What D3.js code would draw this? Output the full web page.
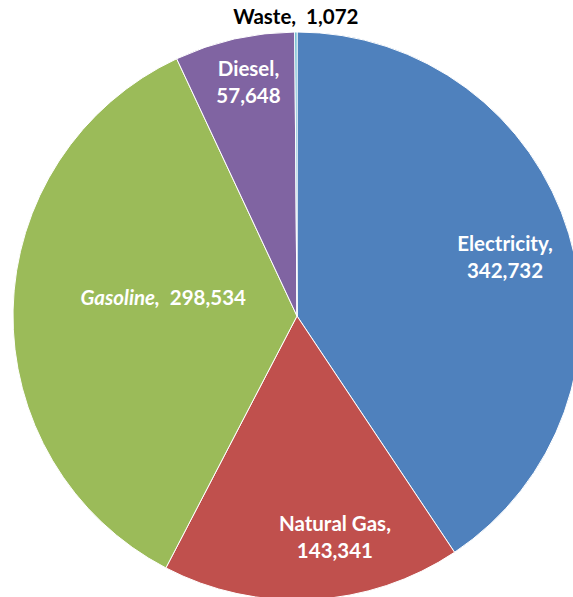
<!DOCTYPE html>
<html>
<head>
<meta charset="utf-8">
<script src="https://cdn.jsdelivr.net/npm/d3@7/dist/d3.min.js"></script>
<style>
  html, body { margin: 0; padding: 0; background: #fff; }
  svg { display: block; }
  text { font-family: Lato, "Open Sans", sans-serif; font-weight: bold; }
</style>
</head>
<body>
<svg id="chart" width="573" height="597"></svg>
<script>
// Energy use by source
const categories = ["Electricity", "Natural Gas", "Gasoline", "Diesel", "Waste"];
const values = [342732, 143341, 298534, 57648, 1072];
const colors = ["#4F81BD", "#C0504D", "#9BBB59", "#8064A2", "#4BACC6"];

// label layout: radius from centre, angular nudge (deg), two-line or one-line, text colour
const labelLayout = [
  { r: 216, da: 1.2, twoLine: true, fill: "#fff" },
  { r: 225, da: -6.6, twoLine: true, fill: "#fff" },
  { r: 135, da: 6.5, twoLine: false, fill: "#fff", italicName: true },
  { r: 238, da: 1.0, twoLine: true, fill: "#fff" },
  { r: 299, da: 0, twoLine: false, fill: "#000" }
];

const cx = 297, cy = 316, R = 284;
const fmt = d3.format(",");

const svg = d3.select("#chart");
const g = svg.append("g").attr("transform", `translate(${cx},${cy})`);

const pie = d3.pie().sort(null).value(d => d.value);
const data = pie(categories.map((c, i) => ({ name: c, value: values[i], i })));
const arc = d3.arc().innerRadius(0).outerRadius(R);

g.selectAll("path.slice")
  .data(data)
  .join("path")
  .attr("class", "slice")
  .attr("d", arc)
  .attr("fill", d => colors[d.data.i])
  .attr("stroke", "#fff")
  .attr("stroke-width", 1);

const lineH = 27;
const labels = g.selectAll("text.label")
  .data(data)
  .join("text")
  .attr("class", "label")
  .attr("text-anchor", "middle")
  .attr("font-size", 20.5)
  .attr("fill", d => labelLayout[d.data.i].fill)
  .attr("transform", d => {
    const L = labelLayout[d.data.i];
    const a = (d.startAngle + d.endAngle) / 2 + L.da * Math.PI / 180;
    return `translate(${L.r * Math.sin(a)},${-L.r * Math.cos(a)})`;
  });

labels.each(function(d) {
  const L = labelLayout[d.data.i];
  const t = d3.select(this);
  if (L.twoLine) {
    t.append("tspan").attr("x", 0).attr("y", -lineH / 2 + 7).text(d.data.name + ",");
    t.append("tspan").attr("x", 0).attr("y", lineH / 2 + 7).text(fmt(d.data.value));
  } else {
    t.attr("y", 7).style("white-space", "pre");
    t.append("tspan")
      .style("font-style", L.italicName ? "italic" : "normal")
      .text(d.data.name + ",");
    t.append("tspan").text("  " + fmt(d.data.value));
  }
});
</script>
</body>
</html>
